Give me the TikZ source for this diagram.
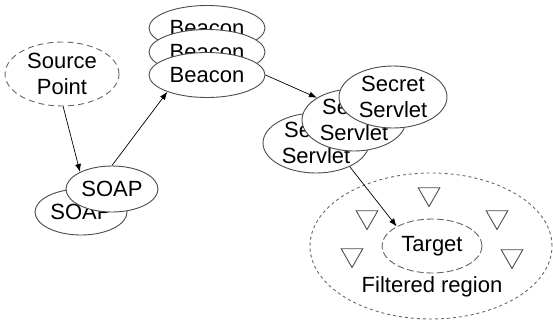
\documentclass[tikz,border=0pt]{standalone}
\usepackage{fontspec}
\setmainfont{Liberation Sans}
\usetikzlibrary{shapes.geometric,arrows.meta}

\tikzset{
  svc/.style={ellipse, draw=black!70, fill=white, line width=0.9pt, inner sep=0pt, align=center},
  zone/.style={ellipse, draw=black!60, line width=0.9pt, inner sep=0pt, align=center},
  flow/.style={-{Latex[length=8pt,width=6pt]}, line width=0.7pt},
  filt/.style={regular polygon, regular polygon sides=3, shape border rotate=180,
    draw=black!70, line width=0.9pt, minimum size=25pt, inner sep=0pt}
}

\begin{document}
\begin{tikzpicture}[x=1pt,y=-1pt,font=\fontsize{22}{26}\selectfont]
  \useasboundingbox (0,0) rectangle (553,322);

  % Zone filtree et cible
  \node[zone, dash pattern=on 3pt off 3pt, minimum width=242pt, minimum height=146pt] (region) at (431,246) {};
  \node (regionlbl) at (432,287) {Filtered region};
  \node[zone, dash pattern=on 7pt off 3pt, minimum width=100pt, minimum height=54pt] (target) at (432,246) {Target};

  % Filtres (triangles)
  \foreach \n/\x/\y in {1/429/194, 2/367/217, 3/497/217, 4/352/255, 5/512/256}{
    \node[filt] (f\n) at (\x,\y) {};
  }

  % Source
  \node[zone, dash pattern=on 6pt off 4pt, minimum width=114pt, minimum height=64pt] (src) at (62,74) {Source\\Point};

  % SOAP (arriere puis avant)
  \node[svc, minimum width=92pt, minimum height=46pt] (soapB) at (81,212) {SOAP};
  \node[svc, minimum width=92pt, minimum height=46pt] (soapA) at (112,189) {SOAP};

  % Beacons empiles
  \node[svc, minimum width=116pt, minimum height=45pt] (beaconC) at (207,28) {Beacon};
  \node[svc, minimum width=116pt, minimum height=45pt] (beaconB) at (207,52) {Beacon};
  \node[svc, minimum width=116pt, minimum height=45pt] (beaconA) at (207,75) {Beacon};

  % Secret Servlets empiles
  \node[svc, minimum width=106pt, minimum height=60pt] (servB) at (316,143) {Secret\\Servlet};
  \node[svc, minimum width=104pt, minimum height=62pt] (servM) at (354,120) {Secret\\Servlet};
  \node[svc, minimum width=108pt, minimum height=62pt] (servA) at (393,97) {Secret\\Servlet};

  % Fleches
  \draw[flow] (src.-88) -- (soapA.152);
  \draw[flow] (soapA.north) -- (beaconA.203);
  \draw[flow] (beaconA.east) -- (servM.149);
  \draw[flow] (servB.-35) -- (target.151);

\end{tikzpicture}
\end{document}
